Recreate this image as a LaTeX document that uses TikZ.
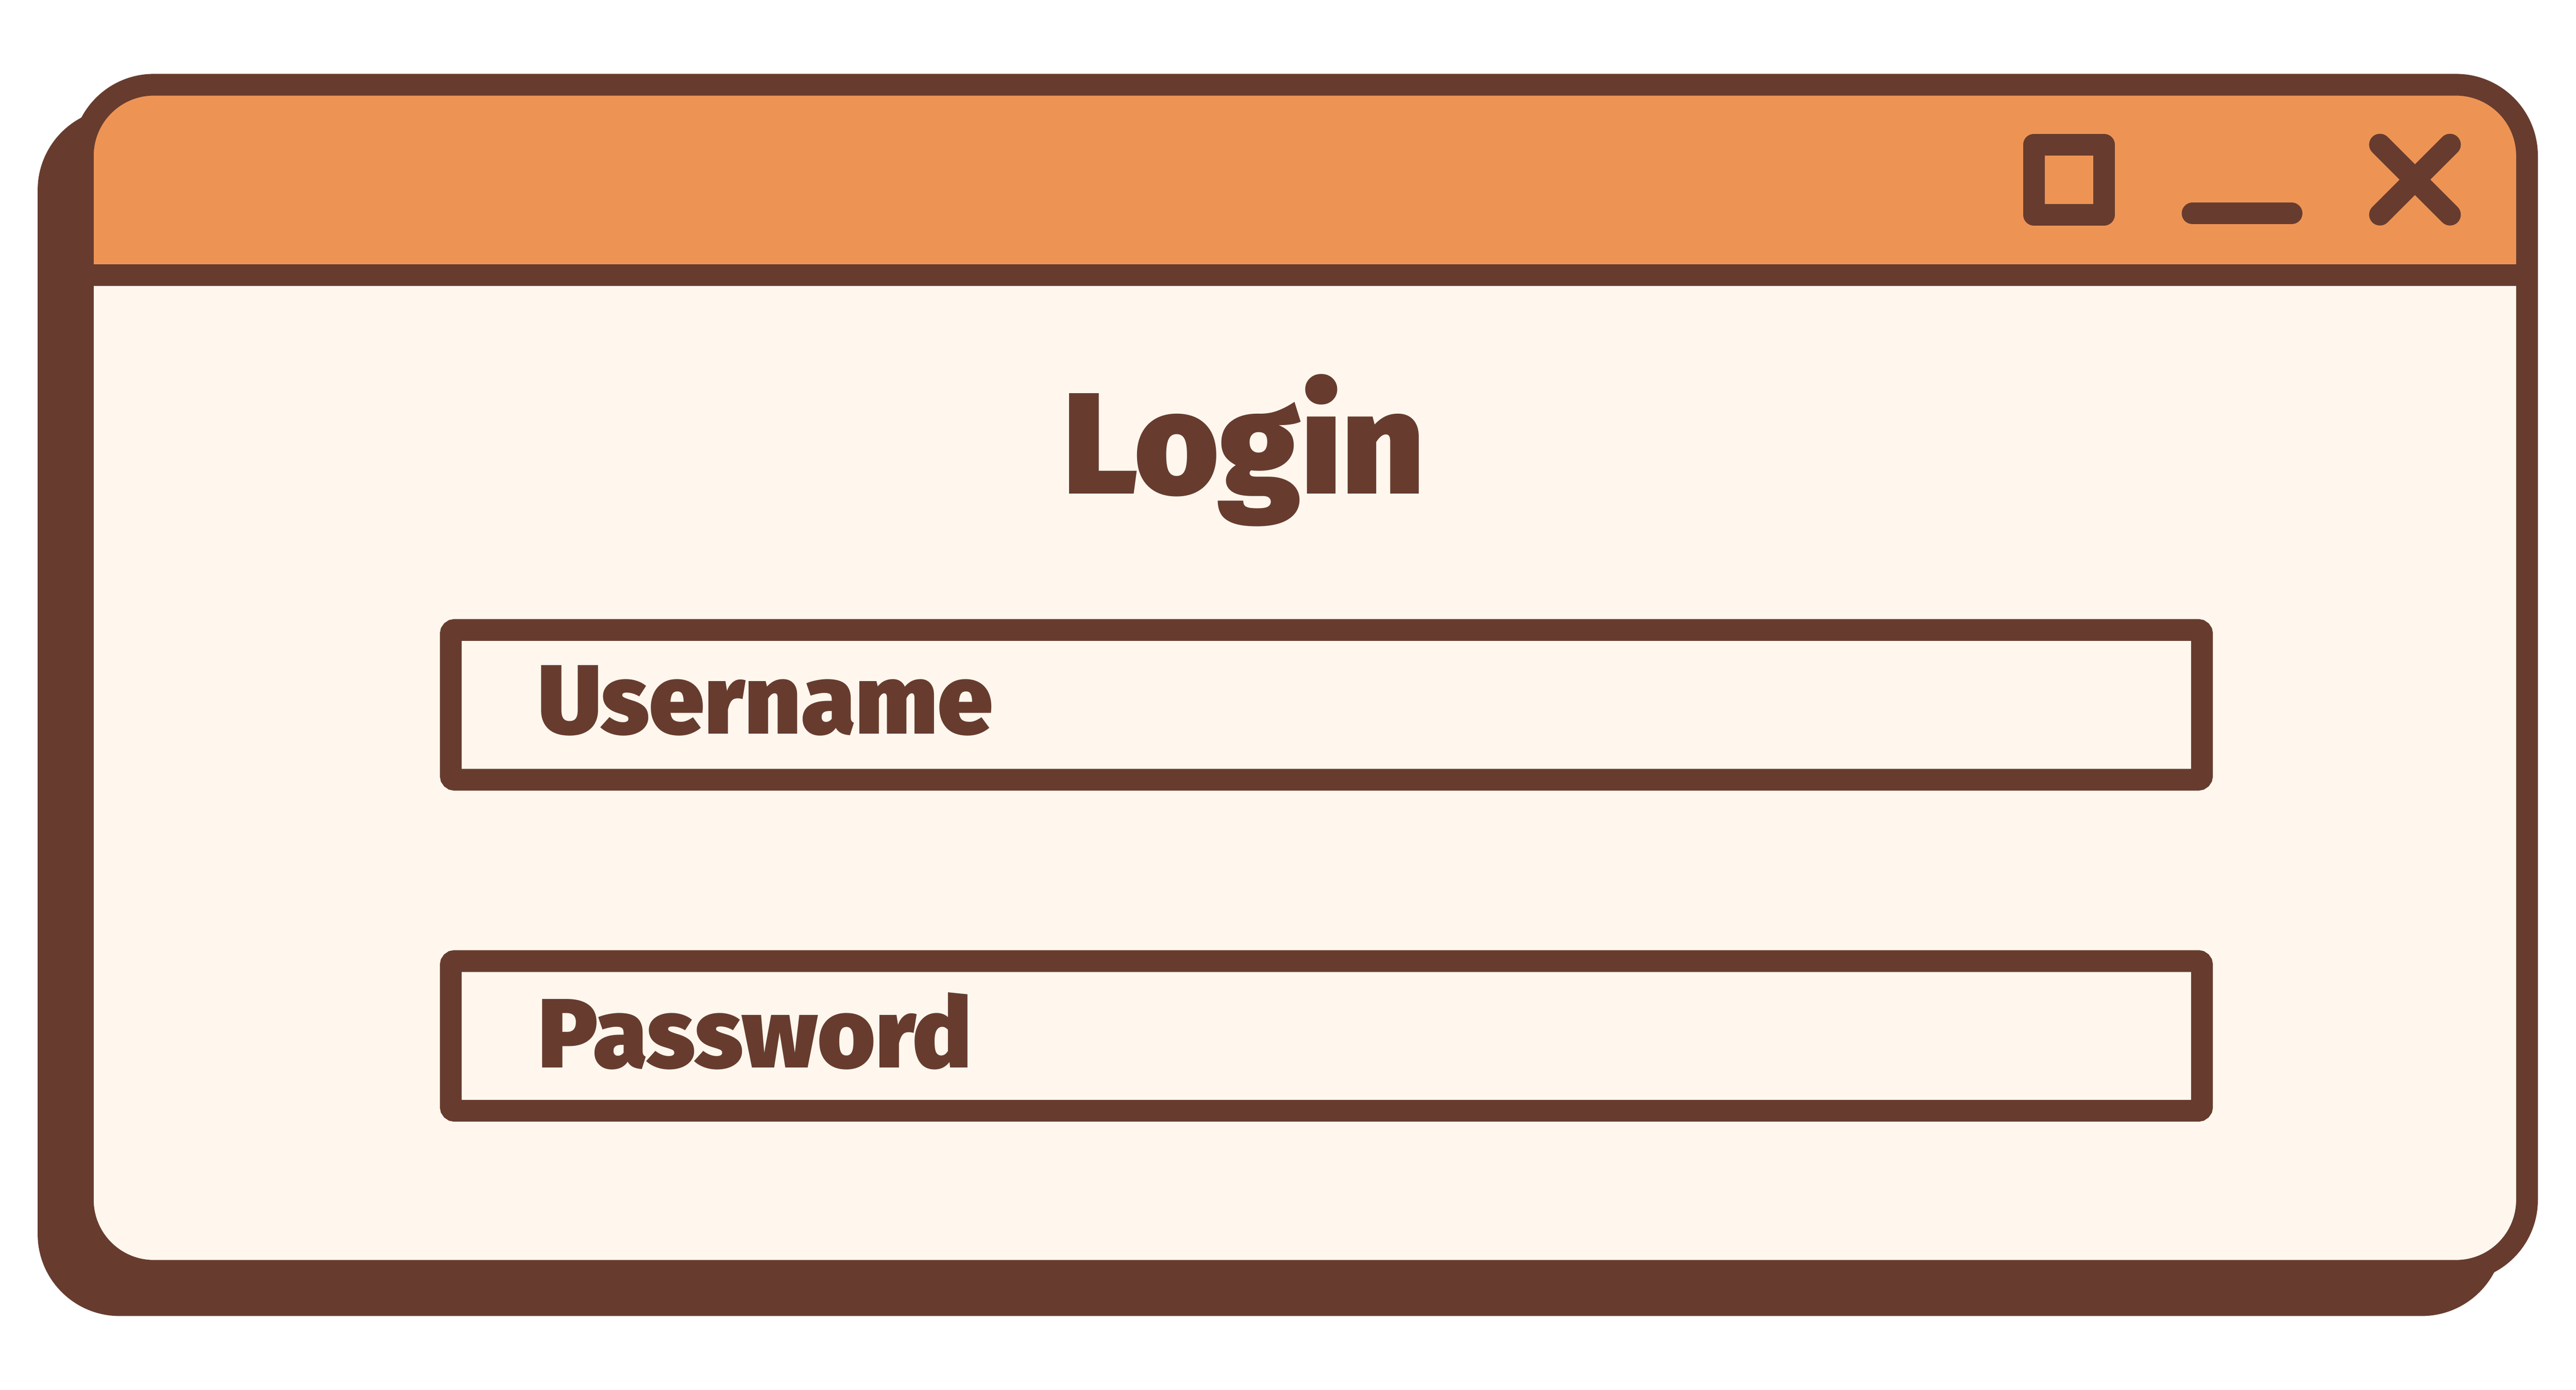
\documentclass[tikz,border=0pt]{standalone}
\usepackage{fontspec}
\setmainfont{Fira Sans}
\newfontfamily\heavyfont{Fira Sans Black}
\usepackage{tikz}
\usetikzlibrary{positioning}
\definecolor{brown}{HTML}{673C2E}
\definecolor{bar}{HTML}{ED9455}
\definecolor{paper}{HTML}{FFF7EE}
\def \lw {0.45cm}
\tikzstyle{window} = [draw=brown,line width=\lw,rectangle,rounded corners=1.47cm,outer sep=0,inner sep=0,minimum width=50.61cm,minimum height=24.56cm]
\tikzstyle{field} = [draw=brown,line width=\lw,rectangle,rounded corners=0.08cm,outer sep=0,inner sep=0,minimum width=36.26cm,minimum height=3.1cm]
\tikzstyle{fieldlabel} = [anchor=base west,inner sep=0,text=brown,font=\fontsize{58}{58}\selectfont\heavyfont]
\tikzstyle{button} = [draw=brown,line width=\lw,line cap=round,line join=round]

\begin{document}
\begin{tikzpicture}
      \useasboundingbox (0,0) rectangle (53.34,-28.78);
      % window with its shadow
      \node[window,fill=brown] (shadow) at (26.31,-14.745) {};
      \node[window,fill=paper,path picture={
          \fill[bar,sharp corners] (path picture bounding box.north west) rectangle ([yshift=-3.94cm]path picture bounding box.north east);}] (win) at (27.02,-14.035) {};
      \coordinate (sep) at ([yshift=-3.94cm]win.north);
      \draw[button,line cap=butt] (win.west |- sep) -- (win.east |- sep);
      % buttons
      \node[button,rectangle,minimum size=1.45cm,inner sep=0,outer sep=0] (max) at (42.84,-3.72) {};
      \coordinate (minl) at (45.40,-4.42);
      \coordinate (minr) at (47.45,-4.42);
      \draw[button] (minl) -- (minr);
      \coordinate (close) at (50.005,-3.72);
      \draw[button] ([shift={(-0.725,0.725)}]close) -- ([shift={(0.725,-0.725)}]close);
      \draw[button] ([shift={(-0.725,-0.725)}]close) -- ([shift={(0.725,0.725)}]close);
      % title
      \node[anchor=base,inner sep=0,text=brown,font=\fontsize{85}{85}\selectfont\heavyfont] (login) at (25.75,-10.22) {Login};
      % fields
      \node[field,fill=paper] (user) at (27.465,-14.595) {};
      \node[field,fill=paper] (pass) at (27.465,-21.45) {};
      \node[fieldlabel] (userlabel) at ([xshift=1.8cm,yshift=-0.6cm]user.west) {Username};
      \node[fieldlabel] (passlabel) at ([xshift=1.8cm,yshift=-0.66cm]pass.west) {Password};
    \end{tikzpicture}
\end{document}
